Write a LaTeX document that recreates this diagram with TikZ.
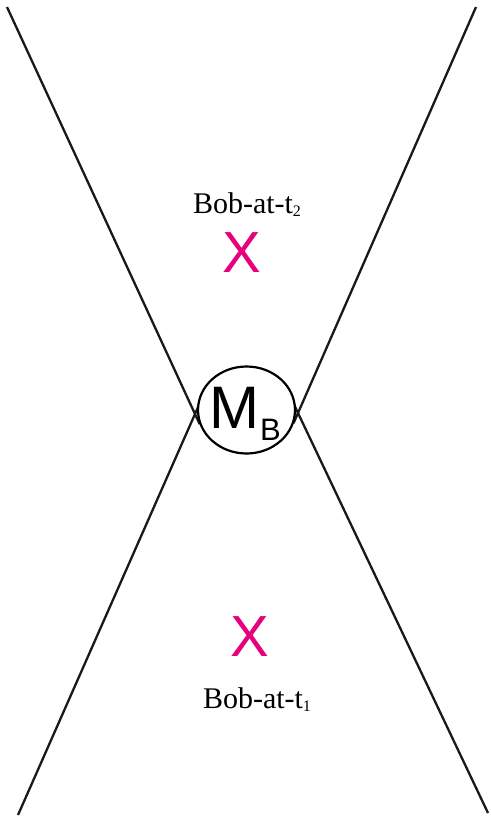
\documentclass[tikz,border=0pt]{standalone}
\usepackage{fontspec}
\setmainfont{Liberation Serif}
\newfontfamily\helv{Liberation Sans}
\usetikzlibrary{shapes.geometric,calc}
\definecolor{xmag}{RGB}{230,0,126}
\begin{document}
\begin{tikzpicture}[x=1pt,y=-1pt,
  cone/.style={line width=2.3pt,black!90},
  mbox/.style={ellipse,draw,line width=2.2pt,fill=white,minimum width=97pt,minimum height=87pt,inner sep=0pt},
  xmark/.style={text=xmag,inner sep=0pt,font=\helv\fontsize{58}{58}\selectfont},
  boblabel/.style={inner sep=0pt,anchor=base,font=\fontsize{30}{30}\selectfont}]
\useasboundingbox (0,0) rectangle (490,824);
\coordinate (tl) at (7,7);
\coordinate (br) at (488,813);
\coordinate (tr) at (476,7);
\coordinate (bl) at (18,815);
\coordinate (cl) at (195,414);
\coordinate (cr) at (298,413);
\draw[cone] (tl) -- ($(tl)!1.025!(cl)$);
\draw[cone] (bl) -- ($(bl)!1.025!(cl)$);
\draw[cone] (tr) -- ($(tr)!1.025!(cr)$);
\draw[cone] (br) -- ($(br)!1.025!(cr)$);
\node[mbox] (mb) at (246.5,410) {};
\node[inner sep=0pt,anchor=base west,font=\helv] (mlabel) at (209,428)
  {\fontsize{60}{60}\selectfont M\kern1pt\raisebox{-12pt}{\fontsize{31}{31}\selectfont B}};
\node[boblabel] (bob2) at (247,213) {Bob-at-t\raisebox{-3pt}{\fontsize{16}{16}\selectfont 2}};
\node[xmark] (x2) at (242,253) {X};
\node[xmark] (x1) at (250,637) {X};
\node[boblabel] (bob1) at (257,708) {Bob-at-t\raisebox{-3pt}{\fontsize{16}{16}\selectfont 1}};
\end{tikzpicture}
\end{document}
